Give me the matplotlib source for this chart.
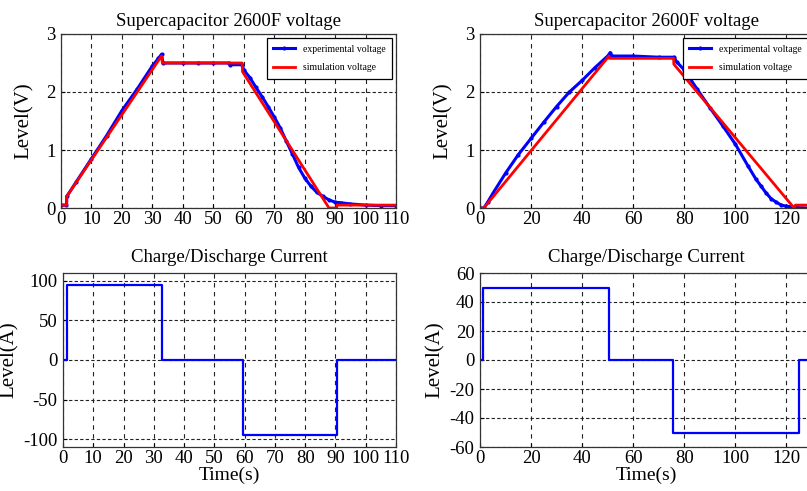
import matplotlib
matplotlib.use("Agg")
import matplotlib.pyplot as plt

plt.rcParams['font.family'] = ['Liberation Serif', 'DejaVu Serif']
plt.rcParams['axes.unicode_minus'] = False

# ---- data: left test (95 A) ----
t_exp_L = [0, 1.8, 1.9, 5, 10, 15, 20, 25, 30, 32, 33, 33.5, 40, 45, 50, 55, 55.5, 59.5, 60,
           62, 64, 66, 68, 70, 72, 74, 76, 78, 80, 82, 84, 86, 88, 90, 92, 95, 100, 105, 110]
v_exp_L = [0.05, 0.05, 0.2, 0.45, 0.85, 1.25, 1.68, 2.05, 2.45, 2.58, 2.65, 2.5, 2.5, 2.5, 2.5, 2.5, 2.47, 2.47, 2.38,
           2.25, 2.08, 1.92, 1.75, 1.57, 1.38, 1.15, 0.93, 0.7, 0.52, 0.38, 0.27, 0.2, 0.14, 0.1, 0.09, 0.07, 0.05, 0.04, 0.04]
t_sim_L = [0, 1.9, 1.9, 33, 33.3, 59.5, 59.6, 88, 90.5, 90.6, 110]
v_sim_L = [0.05, 0.05, 0.2, 2.62, 2.5, 2.5, 2.35, 0.0, 0.0, 0.05, 0.05]
t_cur_L = [0, 1.4, 1.4, 32.8, 32.8, 59.3, 59.3, 90.4, 90.4, 110]
i_cur_L = [0, 0, 95, 95, 0, 0, -95, -95, 0, 0]

# ---- data: right test (50 A) ----
t_exp_R = [0, 1.5, 3, 5, 10, 15, 20, 25, 30, 35, 40, 45, 50, 51, 51.5, 60, 70, 76, 77, 80,
           85, 90, 95, 100, 105, 108, 110, 112, 114, 116, 118, 120, 122, 124, 126, 130]
v_exp_R = [0, 0, 0.1, 0.25, 0.6, 0.92, 1.2, 1.48, 1.75, 2.0, 2.2, 2.42, 2.62, 2.68, 2.62, 2.62, 2.6, 2.6, 2.52, 2.38,
           2.05, 1.73, 1.42, 1.1, 0.72, 0.5, 0.38, 0.26, 0.16, 0.1, 0.05, 0.03, 0.02, 0.01, 0.0, 0.0]
t_sim_R = [0, 1.5, 50.5, 50.6, 75.8, 75.9, 123, 123.5, 130]
v_sim_R = [0, 0, 2.62, 2.58, 2.58, 2.48, 0, 0.05, 0.05]
t_cur_R = [0, 1.3, 1.3, 50.7, 50.7, 75.6, 75.6, 124.8, 124.8, 130]
i_cur_R = [0, 0, 50, 50, 0, 0, -50, -50, 0, 0]

title_v = "Supercapacitor 2600F voltage"
title_i = "Charge/Discharge Current"

fig = plt.figure(figsize=(8.07, 4.91), dpi=100)
W, H = 807.0, 491.0

def ax_at(x0, x1, y0, y1):
    return fig.add_axes([x0 / W, 1 - y1 / H, (x1 - x0) / W, (y1 - y0) / H])

axTL = ax_at(61, 396, 34, 208)
axTR = ax_at(480, 812, 34, 208)
axBL = ax_at(63, 396, 273, 447)
axBR = ax_at(480, 812, 273, 447)

FS = 13.5
LFS = 15

def style(ax):
    ax.xaxis.grid(True, color='#222222', linestyle=(0, (4, 4)), linewidth=0.8)
    ax.yaxis.grid(True, color='#222222', linestyle=(0, (3, 2)), linewidth=0.8)
    ax.set_axisbelow(True)
    ax.tick_params(direction='in', length=3, labelsize=FS, width=0.8)
    ax.tick_params(axis='y', pad=4)
    ax.tick_params(axis='x', pad=2)
    for s in ax.spines.values():
        s.set_linewidth(0.9)
        s.set_color('#333333')

def voltage(ax, t_e, v_e, t_s, v_s, xmax, step):
    ax.plot(t_e, v_e, '.-', color='blue', lw=2.2, ms=4, label='experimental voltage')
    ax.plot(t_s, v_s, '-', color='red', lw=2, label='simulation voltage')
    ax.set_xlim(0, xmax); ax.set_ylim(0, 3)
    ax.set_xticks(range(0, xmax + 1, step)); ax.set_yticks([0, 1, 2, 3])
    ax.set_title(title_v, fontsize=FS, pad=6)
    ax.set_ylabel("Level(V)", fontsize=LFS, labelpad=9)
    style(ax)
    lg = ax.legend(loc='upper right', fontsize=7, fancybox=False, edgecolor='black',
                   framealpha=1, borderaxespad=0.4, handlelength=2.2,
                   labelspacing=1.0, borderpad=0.7)
    lg.get_frame().set_linewidth(0.9)

def current(ax, t, i, xmax, step, ylim, yticks):
    ax.plot(t, i, '-', color='blue', lw=1.6)
    ax.set_xlim(0, xmax); ax.set_ylim(*ylim)
    ax.set_xticks(range(0, xmax + 1, step)); ax.set_yticks(yticks)
    ax.set_title(title_i, fontsize=FS, pad=8)
    ax.set_ylabel("Level(A)", fontsize=LFS, labelpad=3)
    ax.set_xlabel("Time(s)", fontsize=14, labelpad=0)
    style(ax)

voltage(axTL, t_exp_L, v_exp_L, t_sim_L, v_sim_L, 110, 10)
voltage(axTR, t_exp_R, v_exp_R, t_sim_R, v_sim_R, 130, 20)
current(axBL, t_cur_L, i_cur_L, 110, 10, (-110, 110), [-100, -50, 0, 50, 100])
current(axBR, t_cur_R, i_cur_R, 130, 20, (-60, 60), list(range(-60, 61, 20)))

fig.savefig("out.png", dpi=100)
